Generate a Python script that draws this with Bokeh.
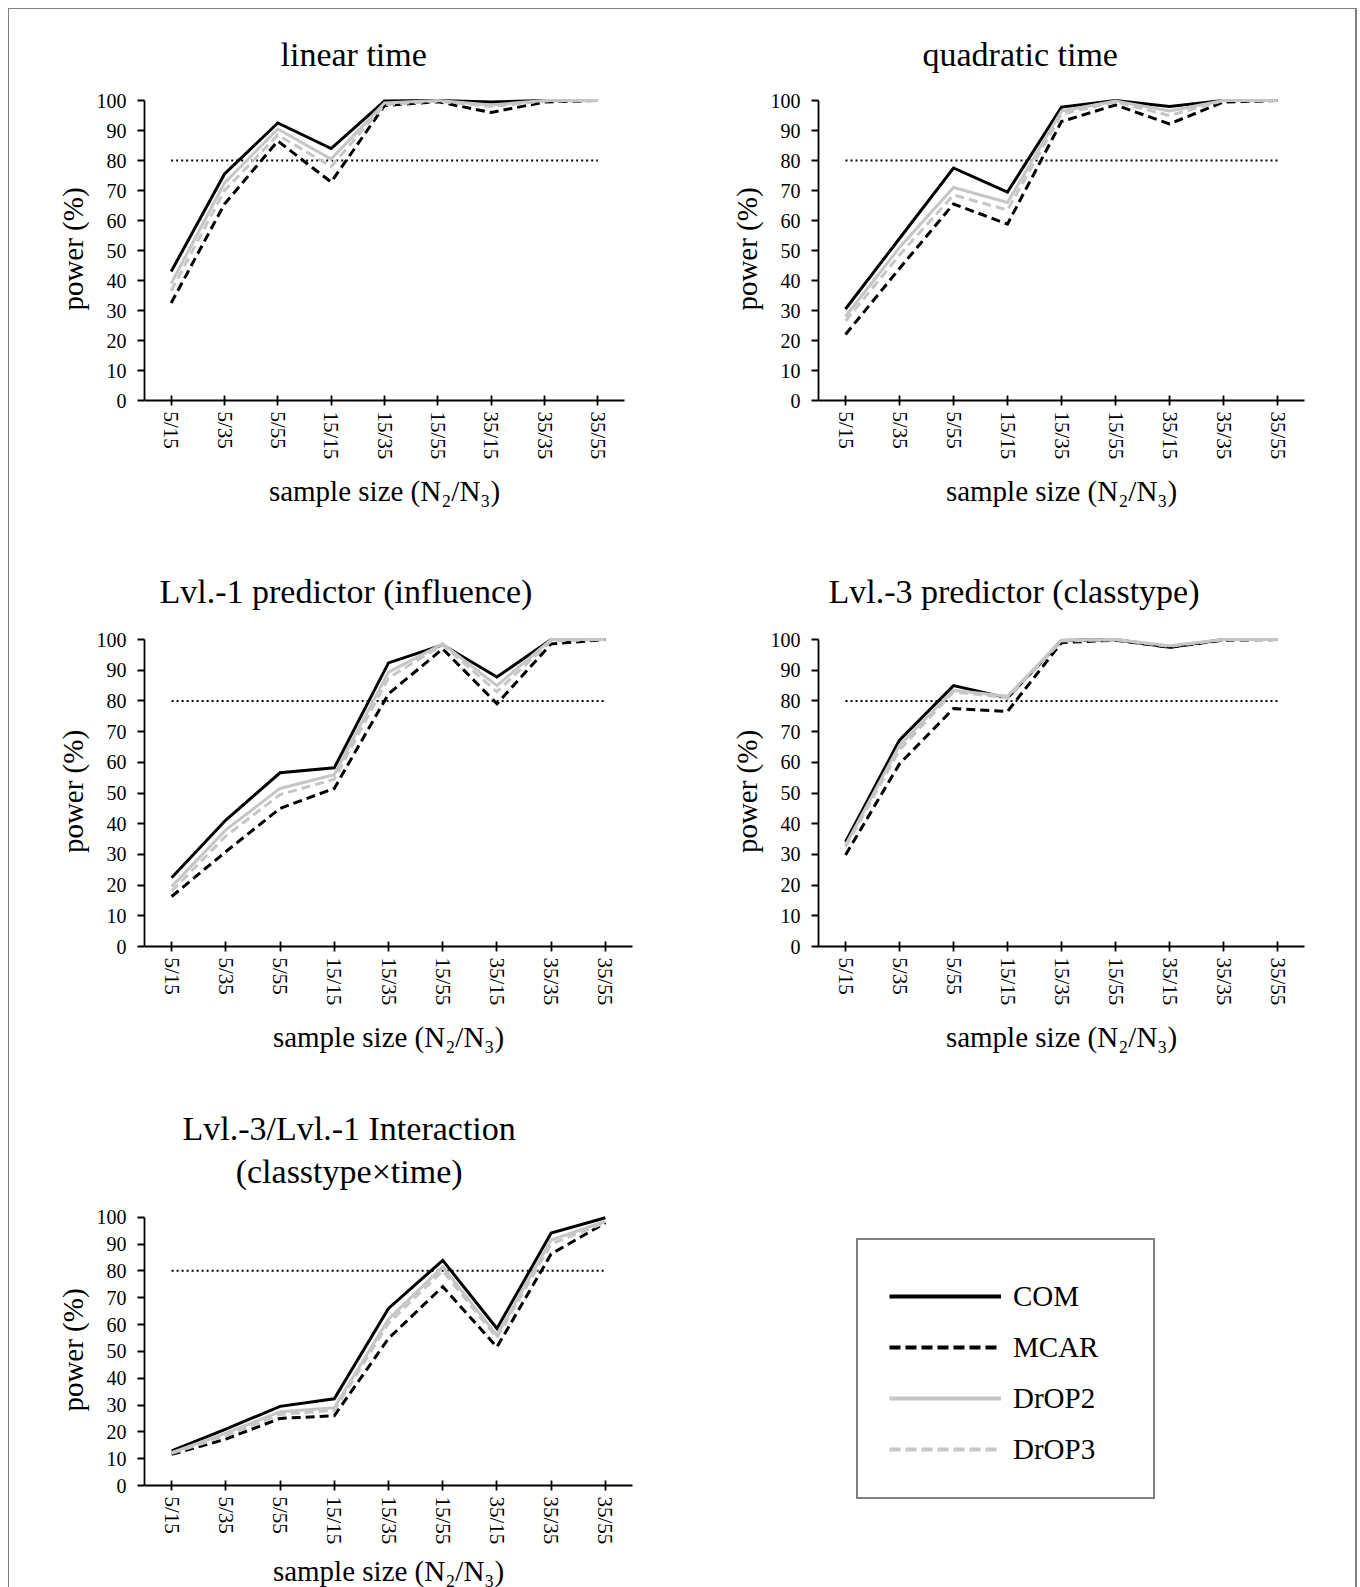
import math
from bokeh.plotting import figure
from bokeh.models import FactorRange, Range1d, Legend, LegendItem, FixedTicker
from bokeh.layouts import column, row
from bokeh.embed import file_html
from bokeh.resources import INLINE

# ---------------- data ----------------
categories = ["5/15", "5/35", "5/55", "15/15", "15/35", "15/55", "35/15", "35/35", "35/55"]
series_names = ["COM", "MCAR", "DrOP2", "DrOP3"]
target_power = 80
y_ticks = [0, 10, 20, 30, 40, 50, 60, 70, 80, 90, 100]

linear_com = [43, 75.5, 92.5, 84, 99.8, 100, 99.5, 100, 100]
linear_mcar = [32.5, 65.5, 86.5, 72.8, 98.3, 99.6, 96, 99.5, 100]
linear_drop2 = [39, 72.5, 90.5, 80.5, 99.2, 100, 98.5, 100, 100]
linear_drop3 = [36.5, 70, 88.5, 78, 98.6, 99.8, 98, 99.8, 100]

quad_com = [30.5, 54, 77.5, 69.5, 97.8, 100, 98, 100, 100]
quad_mcar = [22, 44, 65.5, 58.8, 93, 98.5, 92.2, 99.5, 100]
quad_drop2 = [28, 51, 71, 66, 96.5, 99.8, 96.5, 100, 100]
quad_drop3 = [26.5, 48.5, 68.5, 63.5, 95.5, 99.5, 95, 100, 100]

infl_com = [22.4, 41.2, 56.6, 58.2, 92.4, 98.3, 87.8, 100, 100]
infl_mcar = [16.3, 30.9, 45, 51.5, 82.3, 97, 79.1, 98.6, 100]
infl_drop2 = [19.5, 38, 51.5, 56, 89.4, 98.6, 85, 100, 100]
infl_drop3 = [18, 36, 49.5, 54.5, 87.5, 98.3, 83, 99.6, 100]

class_com = [34.1, 67.2, 85, 81, 99.7, 100, 97.5, 100, 100]
class_mcar = [29.8, 59.5, 77.5, 76.6, 99, 99.8, 97.5, 99.8, 100]
class_drop2 = [33, 65.5, 83.5, 81.5, 99.8, 100, 98, 100, 100]
class_drop3 = [32.5, 64, 83, 81, 99.5, 100, 97.8, 100, 100]

inter_com = [12.9, 21, 29.5, 32.3, 66, 83.9, 58.5, 94.1, 99.8]
inter_mcar = [11.6, 17.3, 25, 26, 54.8, 74.1, 51.6, 86.3, 97.9]
inter_drop2 = [12.2, 19.5, 27.5, 29, 62, 81.5, 56, 91.5, 98.5]
inter_drop3 = [12, 18.5, 26.5, 28, 60.5, 80, 55, 90, 98]

# ---------------- styling ----------------
FONT = "Liberation Serif"
GRAY = "#c6c6c6"
STYLES = {
    "COM": dict(line_color="black", line_dash="solid"),
    "MCAR": dict(line_color="black", line_dash="9 5"),
    "DrOP2": dict(line_color=GRAY, line_dash="solid"),
    "DrOP3": dict(line_color=GRAY, line_dash="9 5"),
}


def make_panel(title, series, left, fwidth, right, top, fheight, bottom,
               title_standoff=48, title_offset=0, xlabel_standoff=13):
    p = figure(x_range=FactorRange(*categories), y_range=Range1d(0, 101),
               frame_width=fwidth, frame_height=fheight,
               min_border_left=left, min_border_right=right,
               min_border_top=top, min_border_bottom=bottom,
               toolbar_location=None, tools="", output_backend="svg",
               outline_line_color=None, background_fill_color="white",
               border_fill_color="white")
    p.xgrid.visible = False
    p.ygrid.visible = False

    p.title.text = title
    p.title.align = "left"
    p.title.offset = title_offset
    p.title.text_align = "center"
    p.title.text_font = FONT
    p.title.text_font_size = "34px"
    p.title.text_font_style = "normal"
    p.title.text_color = "black"
    p.title.text_line_height = 1.17
    p.title.standoff = title_standoff

    # y axis
    ya = p.yaxis[0]
    ya.ticker = FixedTicker(ticks=y_ticks)
    ya.bounds = (0, 100)
    ya.minor_tick_line_color = None
    ya.major_tick_in = 0
    ya.major_tick_out = 7
    ya.major_label_standoff = 11
    ya.major_label_text_font = FONT
    ya.major_label_text_font_size = "20px"
    ya.major_label_text_color = "black"
    ya.axis_line_width = 1.8
    ya.axis_line_color = "black"
    ya.major_tick_line_width = 1.8
    ya.major_tick_line_color = "black"
    ya.axis_label = "power (%)"
    ya.axis_label_text_font = FONT
    ya.axis_label_text_font_size = "29px"
    ya.axis_label_text_font_style = "normal"
    ya.axis_label_text_color = "black"
    ya.axis_label_standoff = 5

    # x axis
    xa = p.xaxis[0]
    xa.major_tick_in = 5
    xa.major_tick_out = 5
    xa.major_label_orientation = -math.pi / 2
    xa.major_label_standoff = 6
    xa.major_label_text_font = FONT
    xa.major_label_text_font_size = "21px"
    xa.major_label_text_color = "black"
    xa.axis_line_width = 1.8
    xa.axis_line_color = "black"
    xa.major_tick_line_width = 1.8
    xa.major_tick_line_color = "black"
    xa.axis_label = "sample size (N\u2082/N\u2083)"
    xa.axis_label_text_font = FONT
    xa.axis_label_text_font_size = "29px"
    xa.axis_label_text_font_style = "normal"
    xa.axis_label_text_color = "black"
    xa.axis_label_standoff = xlabel_standoff

    # target power reference line
    p.line(x=[categories[0], categories[-1]], y=[target_power, target_power],
           line_color="black", line_width=2, line_dash="2 3")

    for name, vals in zip(series_names, series):
        st = STYLES[name]
        p.line(x=categories, y=vals, line_width=3, line_join="miter", **st)
    return p


p1 = make_panel("linear time", [linear_com, linear_mcar, linear_drop2, linear_drop3],
                134, 480, 58, 86, 303, 142, title_standoff=49, title_offset=136)
p2 = make_panel("quadratic time", [quad_com, quad_mcar, quad_drop2, quad_drop3],
                137, 486, 51, 86, 303, 142, title_standoff=49, title_offset=104)
p3 = make_panel("Lvl.-1 predictor (influence)", [infl_com, infl_mcar, infl_drop2, infl_drop3],
                135, 488, 49, 94, 310, 136, title_standoff=54, title_offset=15)
p4 = make_panel("Lvl.-3 predictor (classtype)", [class_com, class_mcar, class_drop2, class_drop3],
                137, 486, 51, 94, 310, 136, title_standoff=54, title_offset=10)
p5 = make_panel("Lvl.-3/Lvl.-1 Interaction\n(classtype\u00d7time)",
                [inter_com, inter_mcar, inter_drop2, inter_drop3],
                135, 488, 49, 132, 271, 104, title_standoff=48, title_offset=38,
                xlabel_standoff=8)

# legend panel
lg = figure(frame_width=486, frame_height=507,
            min_border_left=137, min_border_right=51, min_border_top=0, min_border_bottom=0,
            x_axis_location=None, y_axis_location=None,
            x_range=Range1d(-1000, -999), y_range=Range1d(-1000, -999),
            toolbar_location=None, tools="", output_backend="svg",
            outline_line_color=None)
lg.grid.visible = False
items = []
for name, vals in zip(series_names, [inter_com, inter_mcar, inter_drop2, inter_drop3]):
    st = dict(STYLES[name])
    if st["line_dash"] != "solid":
        st["line_dash"] = "11 5"
    r = lg.line(x=list(range(len(vals))), y=vals, line_width=4, **st)
    items.append(LegendItem(label=name, renderers=[r]))
legend = Legend(items=items, location=(38, 90), margin=0, padding=31, spacing=17,
                title=" ", title_text_font_size="1px", title_standoff=7,
                glyph_width=112, glyph_height=34, label_height=34, label_width=109,
                label_standoff=12, label_text_font=FONT, label_text_font_size="29px",
                label_text_color="black", border_line_color="black", border_line_width=2,
                background_fill_color="white", background_fill_alpha=1.0,
                inactive_fill_alpha=0.0)
lg.add_layout(legend)

layout = row(column(p1, p3, p5), column(p2, p4, lg),
             styles={"margin-left": "8px", "margin-top": "8px",
                     "border-top": "1px solid #808080",
                     "border-left": "1px solid #808080",
                     "border-right": "2px solid #808080"})

open("out.html", "w").write(file_html(layout, INLINE))
